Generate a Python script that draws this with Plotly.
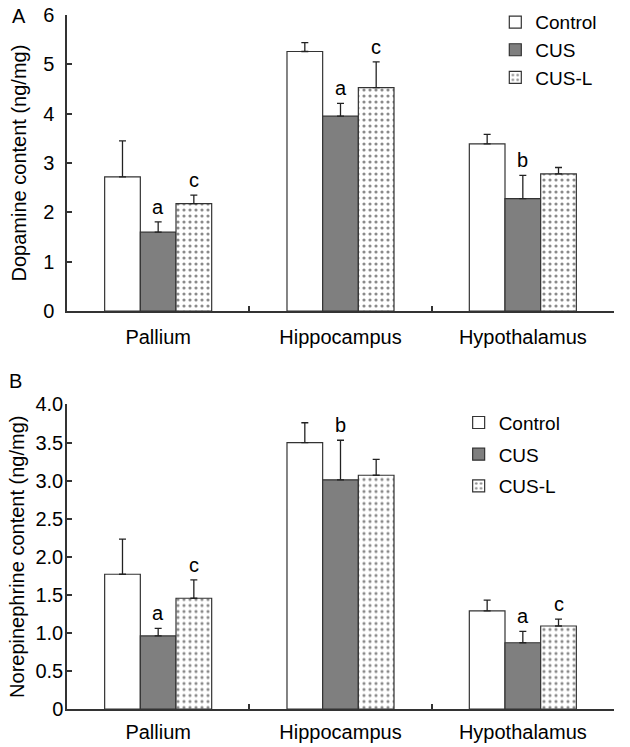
import plotly.graph_objects as go

regions = ["Pallium", "Hippocampus", "Hypothalamus"]
groups = ["Control", "CUS", "CUS-L"]

# Panel A: dopamine (ng/mg)
da_control = [2.72, 5.26, 3.39]
da_cus = [1.60, 3.95, 2.28]
da_cusl = [2.18, 4.53, 2.78]
da_control_err = [0.73, 0.18, 0.19]
da_cus_err = [0.21, 0.26, 0.47]
da_cusl_err = [0.17, 0.52, 0.13]
da_cus_sig = ["a", "a", "b"]
da_cusl_sig = ["c", "c", ""]

# Panel B: norepinephrine (ng/mg)
ne_control = [1.77, 3.50, 1.29]
ne_cus = [0.96, 3.01, 0.87]
ne_cusl = [1.455, 3.07, 1.09]
ne_control_err = [0.46, 0.26, 0.14]
ne_cus_err = [0.10, 0.52, 0.15]
ne_cusl_err = [0.24, 0.21, 0.09]
ne_cus_sig = ["a", "b", "a"]
ne_cusl_sig = ["c", "", "c"]

ticks_A = [0, 1, 2, 3, 4, 5, 6]
ticktext_A = ["0", "1", "2", "3", "4", "5", "6"]
ticks_B = [0, 0.5, 1.0, 1.5, 2.0, 2.5, 3.0, 3.5, 4.0]
ticktext_B = ["0", "0.5", "1.0", "1.5", "2.0", "2.5", "3.0", "3.5", "4.0"]

FONT = "Arial, Liberation Sans, sans-serif"
LINE = "#333333"
BARGAP = 0.413

styles = {
    "Control": dict(color="white", line=dict(color=LINE, width=1.2)),
    "CUS": dict(color="#7f7f7f", line=dict(color=LINE, width=1.2)),
    "CUS-L": dict(color="white", line=dict(color=LINE, width=1.2),
                  pattern=dict(shape=".", fgcolor="#8a8a8a", bgcolor="white",
                               size=6, solidity=0.22)),
}

fig = go.Figure()

def add_panel(vals, errs, xa, ya, legend, tag):
    for g, v, e in zip(groups, vals, errs):
        fig.add_trace(go.Bar(
            x=regions, y=v, name=g, xaxis=xa, yaxis=ya, legend=legend,
            legendgroup=tag + g,
            marker=styles[g],
            error_y=dict(type="data", array=e, arrayminus=[0] * len(e),
                         symmetric=False, color="#222222", thickness=1.3, width=3.5),
        ))

add_panel([da_control, da_cus, da_cusl], [da_control_err, da_cus_err, da_cusl_err],
          "x", "y", "legend", "A")
add_panel([ne_control, ne_cus, ne_cusl], [ne_control_err, ne_cus_err, ne_cusl_err],
          "x2", "y2", "legend2", "B")

bw = (1 - BARGAP) / 3
annotations = []

def add_letters(vals, errs, sigs, k, xref, yref):
    for i, (v, e, s) in enumerate(zip(vals, errs, sigs)):
        if s:
            annotations.append(dict(
                x=i + (k - 1) * bw, y=v + e, xref=xref, yref=yref, text=s,
                showarrow=False, yanchor="middle", yshift=15,
                font=dict(family=FONT, size=20, color="black")))

add_letters(da_cus, da_cus_err, da_cus_sig, 1, "x", "y")
add_letters(da_cusl, da_cusl_err, da_cusl_sig, 2, "x", "y")
add_letters(ne_cus, ne_cus_err, ne_cus_sig, 1, "x2", "y2")
add_letters(ne_cusl, ne_cusl_err, ne_cusl_sig, 2, "x2", "y2")

annotations.append(dict(x=-0.087, y=0.998, xref="paper", yref="paper", text="A",
                        showarrow=False, xanchor="center", yanchor="middle",
                        font=dict(family=FONT, size=20, color="black")))
annotations.append(dict(x=-0.094, y=0.4723, xref="paper", yref="paper", text="B",
                        showarrow=False, xanchor="center", yanchor="middle",
                        font=dict(family=FONT, size=20, color="black")))

xcommon = dict(showline=True, linecolor=LINE, linewidth=1.5, ticks="inside",
               tickson="boundaries", ticklen=5, tickcolor=LINE, tickwidth=1.5,
               showgrid=False, zeroline=False, automargin=False,
               tickfont=dict(family=FONT, size=20, color="black"))
ycommon = dict(showline=True, linecolor=LINE, linewidth=1.5, ticks="inside",
               ticklen=5, tickcolor=LINE, tickwidth=1.5, showgrid=False,
               zeroline=False, automargin=False,
               tickfont=dict(family=FONT, size=20, color="black"))

fig.update_layout(
    template="none",
    width=630, height=747,
    margin=dict(l=67, r=16, t=15, b=38, autoexpand=False),
    paper_bgcolor="white", plot_bgcolor="white",
    barmode="group", bargap=BARGAP, bargroupgap=0,
    font=dict(family=FONT, size=20, color="black"),
    xaxis=dict(domain=[0, 1], anchor="y", ticklabelstandoff=7, **xcommon),
    yaxis=dict(domain=[0.5733, 1.0], anchor="x", range=[0, 6], tickvals=ticks_A,
               ticktext=ticktext_A, ticklabelstandoff=7,
               title=dict(text="Dopamine content (ng/mg)", standoff=11,
                          font=dict(family=FONT, size=20, color="black")),
               **ycommon),
    xaxis2=dict(domain=[0, 1], anchor="y2", ticklabelstandoff=4, **xcommon),
    yaxis2=dict(domain=[0, 0.4388], anchor="x2", range=[0, 4], tickvals=ticks_B,
                ticktext=ticktext_B, ticklabelstandoff=-2,
                title=dict(text="Norepinephrine content (ng/mg)", standoff=5,
                           font=dict(family=FONT, size=20, color="black")),
                **ycommon),
    legend=dict(x=0.783, y=1.017, xanchor="left", yanchor="top",
                bgcolor="rgba(0,0,0,0)", font=dict(family=FONT, size=19),
                itemwidth=30, tracegroupgap=0),
    legend2=dict(x=0.716, y=0.44, xanchor="left", yanchor="top",
                 bgcolor="rgba(0,0,0,0)", font=dict(family=FONT, size=19),
                 itemwidth=30, tracegroupgap=4),
    annotations=annotations,
    showlegend=True,
)

fig.write_html("out.html", config={"displayModeBar": False},
               post_script="document.body.style.margin='0';document.body.style.overflow='hidden';")
